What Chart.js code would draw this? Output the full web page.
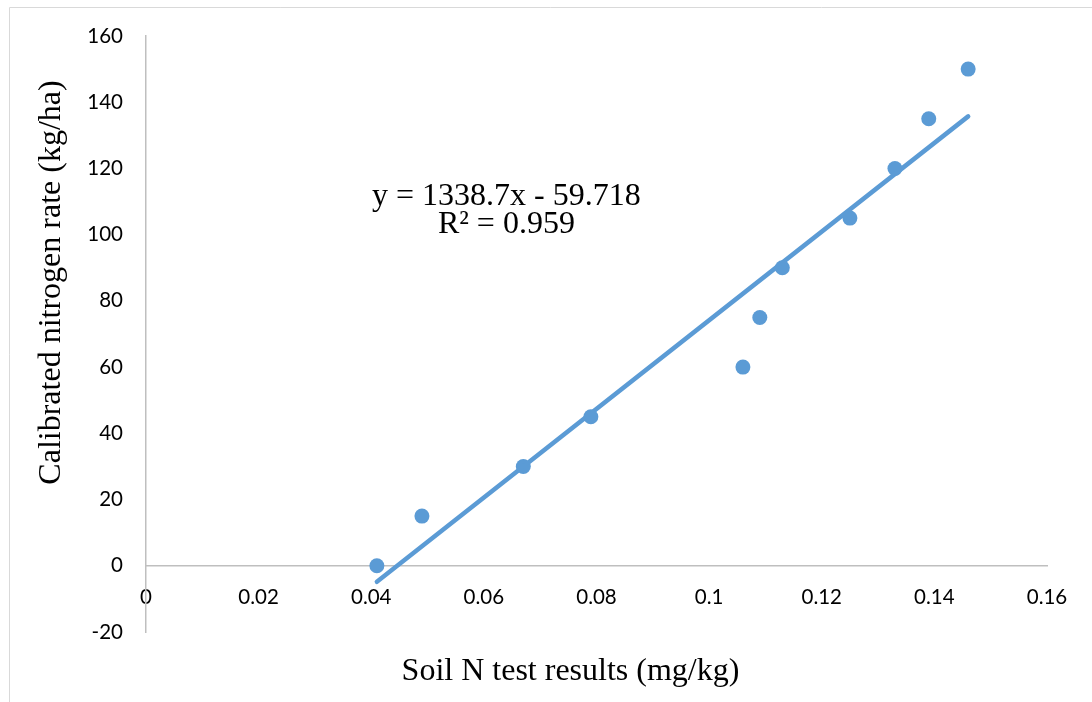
<!DOCTYPE html>
<html>
<head>
<meta charset="utf-8">
<script src="https://cdn.jsdelivr.net/npm/chart.js@4/dist/chart.umd.min.js"></script>
<style>
  html, body { margin: 0; padding: 0; background: #ffffff; }
  #wrap { position: relative; width: 1092px; height: 702px; }
</style>
</head>
<body>
<div id="wrap"><canvas id="c" width="1092" height="702"></canvas></div>
<script>
// ---- data ----
const soilN = [0.041, 0.049, 0.067, 0.079, 0.106, 0.109, 0.113, 0.125, 0.133, 0.139, 0.146];
const nitrogenRate = [0, 15, 30, 45, 60, 75, 90, 105, 120, 135, 150];
const trendX = [0.041, 0.146];
const trendY = [-4.83, 135.73];
const xTickLabels = ['0', '0.02', '0.04', '0.06', '0.08', '0.1', '0.12', '0.14', '0.16'];
const yTickLabels = ['-20', '0', '20', '40', '60', '80', '100', '120', '140', '160'];
const equationLines = ['y = 1338.7x - 59.718', 'R\u00B2 = 0.959'];
const xTitle = 'Soil N test results (mg/kg)';
const yTitle = 'Calibrated nitrogen rate (kg/ha)';

const BLUE = '#5B9BD5';
const AXIS = '#BFBFBF';
const TICK_FONT = { family: 'Lato', size: 20.5 };
const SERIF = '32px "Liberation Serif", "Times New Roman", serif';

const decor = {
  id: 'decor',
  beforeDraw(chart) {
    const ctx = chart.ctx;
    ctx.save();
    ctx.strokeStyle = '#D9D9D9';
    ctx.lineWidth = 1;
    ctx.beginPath();
    ctx.moveTo(9.5, 702);
    ctx.lineTo(9.5, 7.5);
    ctx.lineTo(1092, 7.5);
    ctx.stroke();
    ctx.restore();
  },
  afterDraw(chart) {
    const ctx = chart.ctx;
    const xs = chart.scales.x, ys = chart.scales.y, area = chart.chartArea;
    ctx.save();
    ctx.fillStyle = '#000000';
    ctx.font = SERIF;
    ctx.textAlign = 'center';
    ctx.textBaseline = 'alphabetic';
    // trendline equation
    const ex = xs.getPixelForValue(0.0640);
    ctx.fillText(equationLines[0], ex, ys.getPixelForValue(109.0));
    ctx.fillText(equationLines[1], ex, ys.getPixelForValue(100.6));
    // x axis title
    ctx.fillText(xTitle, 570.5, area.bottom + 48);
    // y axis title
    ctx.translate(60, 282.5);
    ctx.rotate(-Math.PI / 2);
    ctx.fillText(yTitle, 0, 0);
    ctx.restore();
  }
};

new Chart(document.getElementById('c'), {
  type: 'scatter',
  data: {
    datasets: [
      {
        label: 'Linear trend',
        data: trendX.map((x, i) => ({ x: x, y: trendY[i] })),
        showLine: true,
        borderColor: BLUE,
        borderWidth: 4.5,
        borderCapStyle: 'round',
        pointRadius: 0,
        pointHoverRadius: 0,
        fill: false
      },
      {
        label: 'Calibrated nitrogen rate',
        data: soilN.map((x, i) => ({ x: x, y: nitrogenRate[i] })),
        backgroundColor: BLUE,
        borderColor: BLUE,
        borderWidth: 0,
        pointRadius: 7.5,
        pointHoverRadius: 7.5
      }
    ]
  },
  options: {
    responsive: false,
    animation: false,
    devicePixelRatio: 1,
    layout: { padding: { left: 0, top: 36, right: 45, bottom: 70 } },
    plugins: { legend: { display: false }, tooltip: { enabled: false } },
    scales: {
      x: {
        type: 'linear',
        position: { y: 0 },
        min: 0,
        max: 0.16,
        grid: { display: false, drawTicks: false },
        border: { display: true, color: AXIS, width: 1.5 },
        ticks: {
          stepSize: 0.02,
          padding: 19,
          color: '#000000',
          font: TICK_FONT,
          maxRotation: 0,
          autoSkip: false,
          callback: (v, i) => xTickLabels[i]
        }
      },
      y: {
        type: 'linear',
        position: 'left',
        min: -20,
        max: 160,
        grid: { display: false, drawTicks: false },
        border: { display: true, color: AXIS, width: 1.5 },
        ticks: {
          stepSize: 20,
          padding: 23,
          color: '#000000',
          font: TICK_FONT,
          autoSkip: false,
          callback: (v, i) => yTickLabels[i]
        },
        afterFit(scale) { scale.width = 146; }
      }
    }
  },
  plugins: [decor]
});
</script>
</body>
</html>
